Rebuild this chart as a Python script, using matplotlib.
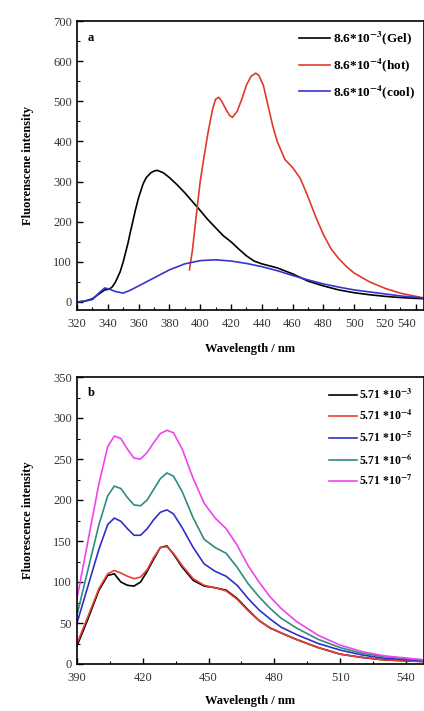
import matplotlib.pyplot as plt
import numpy as np

plt.rcParams['font.family'] = ['Liberation Serif', 'DejaVu Serif']
plt.rcParams['mathtext.fontset'] = 'stix'

# panel a: gel / hot / cool spectra
wl_gel = [320, 325, 330, 335, 338, 341, 343, 345, 348, 350, 353, 355, 358, 360, 363, 365, 368,
          370, 372, 376, 380, 385, 390, 395, 400, 405, 410, 415, 420, 425, 430, 435, 440, 450,
          460, 470, 480, 490, 500, 510, 520, 530, 545]
gel = [0, 2, 8, 22, 30, 32, 38, 50, 75, 100, 145, 180, 230, 260, 295, 310, 322, 326, 328, 322,
       310, 292, 272, 250, 228, 205, 185, 165, 150, 132, 115, 102, 95, 85, 70, 52, 40, 30, 23,
       18, 14, 11, 8]

wl_hot = [393, 395, 397, 400, 402, 405, 408, 410, 412, 414, 416, 419, 421, 424, 427, 430, 433,
          436, 438, 441, 444, 447, 450, 455, 460, 465, 470, 475, 480, 485, 490, 495, 500, 510,
          520, 530, 545]
hot = [80, 130, 200, 300, 350, 420, 480, 505, 510, 500, 485, 465, 460, 475, 505, 540, 562,
       570, 565, 540, 490, 440, 400, 355, 335, 308, 262, 212, 168, 132, 108, 88, 72, 50, 34,
       22, 10]

wl_cool = [320, 325, 330, 335, 338, 341, 345, 350, 355, 360, 370, 380, 390, 400, 410, 420, 430,
           440, 450, 460, 470, 480, 490, 500, 510, 520, 530, 545]
cool = [0, 2, 6, 25, 35, 32, 26, 22, 30, 40, 60, 80, 95, 103, 105, 102, 96, 88, 78, 66, 55,
        45, 37, 30, 25, 20, 15, 10]

labels_a = [r'8.6*10$^{\mathbf{-3}}$(Gel)', r'8.6*10$^{\mathbf{-4}}$(hot)',
            r'8.6*10$^{\mathbf{-4}}$(cool)']

# panel b: concentration series
wl_b = [390, 395, 400, 404, 407, 410, 413, 416, 419, 422, 425, 428, 431, 434, 438, 443, 448,
        453, 458, 463, 468, 473, 478, 483, 490, 500, 510, 520, 530, 548]
c3 = [22, 55, 90, 108, 110, 100, 96, 95, 100, 113, 128, 142, 144, 134, 118, 102, 95, 93, 90,
      80, 66, 53, 44, 38, 30, 20, 12, 8, 5, 3]
c4 = [25, 58, 92, 110, 114, 111, 107, 104, 106, 115, 130, 142, 143, 135, 120, 104, 96, 93, 89,
      79, 65, 53, 44, 38, 30, 20, 12, 8, 5, 3]
c5 = [50, 95, 140, 170, 178, 174, 165, 157, 157, 165, 176, 185, 188, 183, 166, 142, 122, 113,
      107, 96, 80, 66, 55, 45, 36, 25, 17, 11, 7, 4]
c6 = [60, 115, 170, 205, 217, 214, 203, 194, 193, 200, 213, 226, 233, 229, 210, 178, 152, 142,
      135, 118, 98, 82, 68, 56, 44, 30, 20, 13, 9, 5]
c7 = [80, 150, 220, 265, 278, 275, 262, 251, 250, 258, 270, 281, 285, 282, 262, 226, 196, 178,
      165, 145, 120, 100, 82, 68, 52, 35, 23, 15, 10, 5]
labels_b = [r'5.71 *10$^{\mathbf{-3}}$', r'5.71 *10$^{\mathbf{-4}}$', r'5.71 *10$^{\mathbf{-5}}$',
            r'5.71 *10$^{\mathbf{-6}}$', r'5.71 *10$^{\mathbf{-7}}$']

fig = plt.figure(figsize=(4.24, 7.11), dpi=100)
W, H = 424, 711

def px_axes(l, t, r, b):
    return fig.add_axes([l / W, 1 - b / H, (r - l) / W, (b - t) / H])

def style(ax):
    ax.tick_params(which='both', direction='in', top=False, right=False, labelsize=9,
                   labelcolor='#333333')
    ax.tick_params(axis='x', which='major', pad=6)
    ax.tick_params(which='major', length=4, width=1)
    ax.tick_params(which='minor', length=2, width=0.8)
    for s in ax.spines.values():
        s.set_linewidth(1.2)

ax1 = px_axes(77, 21, 423.5, 310)
ax1.plot(wl_gel, gel, color='black', lw=1.2, label=labels_a[0])
ax1.plot(wl_hot, hot, color='#e03a30', lw=1.2, label=labels_a[1])
ax1.plot(wl_cool, cool, color='#3535d0', lw=1.2, label=labels_a[2])
ax1.set_xlim(320, 545)
ax1.set_ylim(-20, 700)
ax1.set_xticks(np.arange(320, 541, 20))
ax1.set_xticks(np.arange(330, 545, 20), minor=True)
ax1.set_yticks(np.arange(0, 701, 100))
ax1.set_yticks(np.arange(50, 700, 100), minor=True)
style(ax1)
# keep the last tick label inside the right edge
ax1.get_xticklabels()[-1].set_horizontalalignment('right')
ax1.set_xlabel('Wavelength / nm', fontsize=9, fontweight='bold', labelpad=9)
ax1.set_ylabel('Fluorenscene intensity', fontsize=9, fontweight='bold', labelpad=14)
ax1.text(0.03, 0.93, 'a', transform=ax1.transAxes, fontsize=9, fontweight='bold')
ax1.legend(loc='upper right', frameon=False, handlelength=2.4,
           handletextpad=0.2, labelspacing=0.7, borderaxespad=0.25,
           prop={'weight': 'bold', 'size': 9.5})

ax2 = px_axes(77, 377, 423.5, 664)
ax2.plot(wl_b, c3, color='black', lw=1.2, label=labels_b[0])
ax2.plot(wl_b, c4, color='#e8403a', lw=1.2, label=labels_b[1])
ax2.plot(wl_b, c5, color='#3030c8', lw=1.2, label=labels_b[2])
ax2.plot(wl_b, c6, color='#2e8b80', lw=1.2, label=labels_b[3])
ax2.plot(wl_b, c7, color='#ee44ee', lw=1.2, label=labels_b[4])
ax2.set_xlim(390, 548)
ax2.set_ylim(0, 350)
ax2.set_xticks(np.arange(390, 541, 30))
ax2.set_xticks(np.arange(405, 548, 30), minor=True)
ax2.set_yticks(np.arange(0, 351, 50))
ax2.set_yticks(np.arange(25, 350, 50), minor=True)
style(ax2)
ax2.set_xlabel('Wavelength / nm', fontsize=9, fontweight='bold', labelpad=8)
ax2.set_ylabel('Fluorescence intensity', fontsize=9, fontweight='bold', labelpad=14)
ax2.text(0.03, 0.935, 'b', transform=ax2.transAxes, fontsize=9, fontweight='bold')
ax2.legend(loc='upper right', frameon=False, handlelength=2.4,
           handletextpad=0.2, labelspacing=0.6, borderaxespad=0.5,
           prop={'weight': 'bold', 'size': 8.5})

fig.savefig('out.png', dpi=100)
